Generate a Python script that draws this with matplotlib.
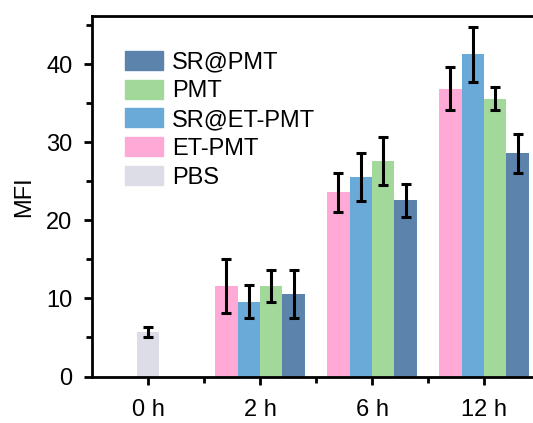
import matplotlib
matplotlib.use("Agg")
import matplotlib.pyplot as plt
from matplotlib.patches import Patch
from matplotlib.ticker import MultipleLocator, FixedLocator
import numpy as np

plt.rcParams['font.family'] = ['Liberation Sans', 'DejaVu Sans']

timepoints = ["0 h", "2 h", "6 h", "12 h"]
series = ["ET-PMT", "SR@ET-PMT", "PMT", "SR@PMT"]
colors = {"ET-PMT": "#FFAAD6", "SR@ET-PMT": "#6AAAD9", "PMT": "#A2D99B",
          "SR@PMT": "#5C83AB", "PBS": "#DDDDE8"}

pbs_value = 5.7
pbs_err = 0.6

# values for 2 h, 6 h, 12 h
means = {
    "ET-PMT":    [11.6, 23.6, 36.9],
    "SR@ET-PMT": [9.6, 25.6, 41.3],
    "PMT":       [11.6, 27.6, 35.6],
    "SR@PMT":    [10.6, 22.6, 28.6],
}
errs = {
    "ET-PMT":    [3.5, 2.5, 2.7],
    "SR@ET-PMT": [2.1, 3.1, 3.5],
    "PMT":       [2.1, 3.1, 1.5],
    "SR@PMT":    [3.1, 2.1, 2.5],
}

fig = plt.figure(figsize=(5.33, 4.23), dpi=100)
ax = fig.add_axes([92/533, 1-376.5/423, 448/533, 360.5/423])

w = 0.2
ekw = dict(elinewidth=2.2, capthick=2.2, ecolor='black')
ax.bar(0, pbs_value, w, color=colors["PBS"], yerr=pbs_err, capsize=3.6, error_kw=ekw, zorder=2)
xs = np.arange(1, len(timepoints))
for i, s in enumerate(series):
    ax.bar(xs + (i - 1.5) * w, means[s], w, color=colors[s], yerr=errs[s],
           capsize=3.6, error_kw=ekw, zorder=2)

ax.set_xlim(-0.5, 3.5)
ax.set_ylim(0, 46.2)
ax.set_xticks(range(len(timepoints)))
ax.set_xticklabels(timepoints)
ax.xaxis.set_minor_locator(FixedLocator([0.5, 1.5, 2.5]))
ax.yaxis.set_major_locator(MultipleLocator(10))
ax.yaxis.set_minor_locator(MultipleLocator(5))
ax.set_ylabel("MFI", fontsize=17, labelpad=8)
ax.tick_params(axis='both', which='major', direction='out', length=6, width=2,
               labelsize=17)
ax.tick_params(axis='x', which='major', pad=10)
ax.tick_params(axis='y', which='major', pad=8)
ax.tick_params(axis='both', which='minor', direction='out', length=4, width=2)
for sp in ax.spines.values():
    sp.set_linewidth(2)

handles = [Patch(color=colors[k]) for k in ["SR@PMT", "PMT", "SR@ET-PMT", "ET-PMT", "PBS"]]
labels = ["SR@PMT", "PMT", "SR@ET-PMT", "ET-PMT", "PBS"]
ax.legend(handles, labels, loc='upper left', bbox_to_anchor=(33/448, (376.5-51)/360.5),
          frameon=False, fontsize=17, handlelength=1.6, handleheight=0.85,
          labelspacing=0.26, handletextpad=0.4, borderpad=0, borderaxespad=0)

fig.savefig("out.png", dpi=100)
